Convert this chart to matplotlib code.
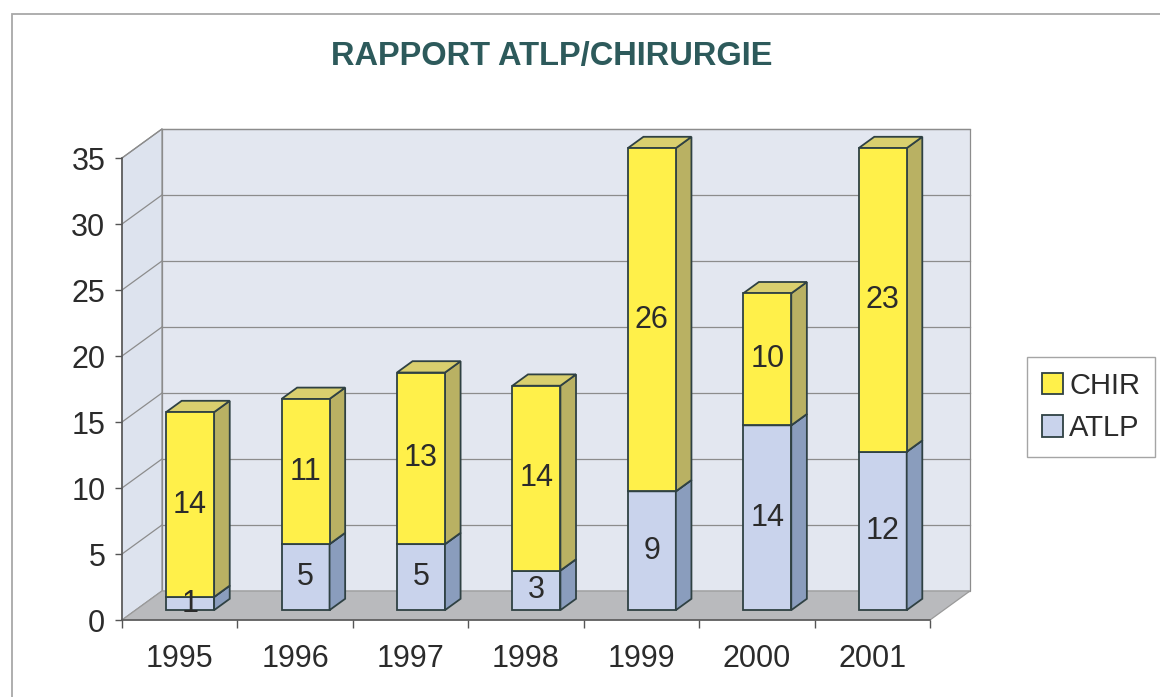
import matplotlib
matplotlib.use("Agg")
import matplotlib.pyplot as plt
from matplotlib.patches import Polygon, Rectangle
import numpy as np

plt.rcParams['font.family'] = ['Liberation Sans', 'DejaVu Sans']

# data
years = ['1995', '1996', '1997', '1998', '1999', '2000', '2001']
atlp = [1, 5, 5, 3, 9, 14, 12]
chir = [14, 11, 13, 14, 26, 10, 23]
yticks = [0, 5, 10, 15, 20, 25, 30, 35]

# colours
c_chir = '#fff04a'
c_chir_side = '#b9b163'
c_chir_top = '#d9cf6e'
c_atlp = '#c9d3ec'
c_atlp_side = '#8a9dbd'
c_atlp_top = '#aab8d6'
c_wall = '#e3e7f0'
c_side_wall = '#dde3ee'
c_floor = '#b9babd'
c_grid = '#8c8c8c'
c_edge = '#2f4143'
c_text = '#2b2b2b'

fig = plt.figure(figsize=(11.6, 6.97), dpi=100)
ax = fig.add_axes([122 / 1160, 1 - 620 / 697, 808 / 1160, 462 / 697])
ax.patch.set_visible(False)

n = len(years)
x = np.arange(n)
ax.set_xlim(-0.5, n - 0.5)
ax.set_ylim(0, 35)

# 3d depth of the box (data units)
dx, dy = 0.3465, 2.2
x0, x1 = -0.5, n - 0.5
ymax = 35

# back wall
ax.add_patch(Rectangle((x0 + dx, dy), x1 - x0, ymax, fc=c_wall, ec=c_grid, lw=0.9,
                       clip_on=False, zorder=0))
# left side wall
ax.add_patch(Polygon([(x0, 0), (x0, ymax), (x0 + dx, ymax + dy), (x0 + dx, dy)],
                     closed=True, fc=c_side_wall, ec=c_grid, lw=0.9, clip_on=False, zorder=0.5))
for v in yticks[1:]:
    ax.plot([x0 + dx, x1 + dx], [v + dy, v + dy], color=c_grid, lw=0.9, clip_on=False, zorder=1)
    ax.plot([x0, x0 + dx], [v, v + dy], color=c_grid, lw=0.9, clip_on=False, zorder=1)
# floor
ax.add_patch(Polygon([(x0, 0), (x1, 0), (x1 + dx, dy), (x0 + dx, dy)],
                     closed=True, fc=c_floor, ec='#9a9a9a', lw=0.9, clip_on=False, zorder=1.5))

# bars
w = 0.416
offx, offy = 0.26 * dx, 0.34 * dy
bdx, bdy = 0.39 * dx, 0.39 * dy


def draw_segment(xc, bottom, h, side, top):
    xl = xc + offx - w / 2
    xr = xc + offx + w / 2
    b = bottom + offy
    t = bottom + h + offy
    ax.add_patch(Polygon([(xr, b), (xr, t), (xr + bdx, t + bdy), (xr + bdx, b + bdy)],
                         closed=True, fc=side, ec=c_edge, lw=1.3, clip_on=False, zorder=3))
    ax.add_patch(Polygon([(xl, t), (xr, t), (xr + bdx, t + bdy), (xl + bdx, t + bdy)],
                         closed=True, fc=top, ec=c_edge, lw=1.3, clip_on=False, zorder=3))


atlp_bars = ax.bar(x + offx, atlp, w, bottom=offy, color=c_atlp, edgecolor=c_edge,
                   lw=1.3, zorder=3, label='ATLP', clip_on=False)
for i in range(n):
    draw_segment(x[i], 0, atlp[i], c_atlp_side, c_atlp_top)
chir_bars = ax.bar(x + offx, chir, w, bottom=np.array(atlp) + offy, color=c_chir,
                   edgecolor=c_edge, lw=1.3, zorder=4, label='CHIR', clip_on=False)
for i in range(n):
    draw_segment(x[i], atlp[i], chir[i], c_chir_side, c_chir_top)

# value labels at middle of each segment
for i in range(n):
    ax.text(x[i] + offx, atlp[i] / 2 + offy, str(atlp[i]), ha='center', va='center',
            fontsize=22, color=c_text, zorder=6)
    ax.text(x[i] + offx, atlp[i] + chir[i] / 2 + offy, str(chir[i]), ha='center',
            va='center', fontsize=22, color=c_text, zorder=6)

# axes
for s in ['top', 'right']:
    ax.spines[s].set_visible(False)
for s in ['left', 'bottom']:
    ax.spines[s].set_color('#555555')
    ax.spines[s].set_linewidth(1.1)
    ax.spines[s].set_zorder(2)
ax.set_yticks(yticks)
ax.tick_params(axis='y', direction='out', length=5, width=1, color='#555555',
               labelsize=22, labelcolor=c_text, pad=7)
ax.set_xticks(np.arange(-0.5, n, 1.0))
ax.set_xticklabels([])
ax.tick_params(axis='x', which='major', direction='out', length=6, width=1, color='#555555')
ax.set_xticks(x, minor=True)
ax.set_xticklabels(years, minor=True)
ax.tick_params(axis='x', which='minor', length=0, labelsize=22, labelcolor=c_text, pad=17)

# title
fig.text(552 / 1160, 1 - 56 / 697, 'RAPPORT ATLP/CHIRURGIE', ha='center', va='center',
         fontsize=23.5, fontweight='bold', color='#2d5a5b')

# legend
leg = fig.legend(handles=[chir_bars, atlp_bars], labels=['CHIR', 'ATLP'],
                 loc='upper left', bbox_to_anchor=(1027 / 1160, 1 - 357 / 697),
                 fontsize=21, frameon=True, fancybox=False, handlelength=0.75,
                 handleheight=0.75, handletextpad=0.2, borderpad=0.5, labelspacing=0.5,
                 borderaxespad=0)
leg.get_frame().set_edgecolor('#8f8f8f')
leg.get_frame().set_linewidth(1.0)
for t in leg.get_texts():
    t.set_color(c_text)

# outer frame of the chart area
fig.add_artist(Rectangle((12 / 1160, -0.1), 1.2, (1 - 14 / 697) + 0.1,
                         transform=fig.transFigure, fill=False, ec='#a8a8a8', lw=1.3))

fig.savefig('out.png', dpi=100)
